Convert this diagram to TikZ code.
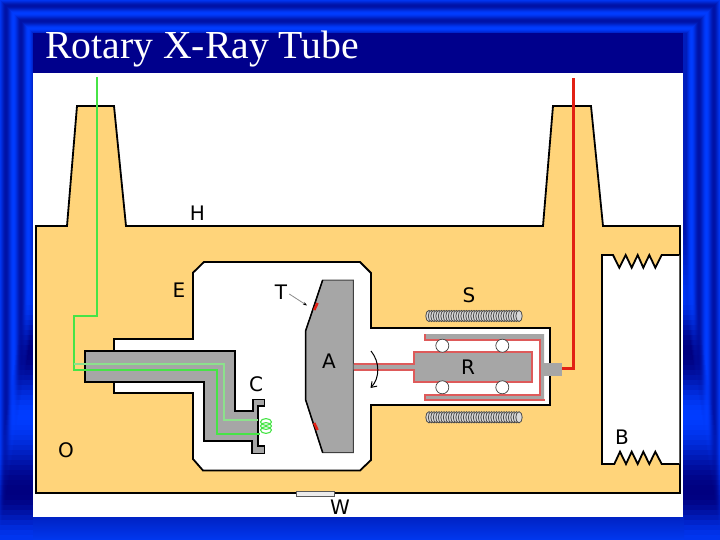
\documentclass[tikz,border=0pt]{standalone}
\usepackage{fontspec}
\setmainfont{DejaVu Sans}
\newfontfamily\titlefont{Liberation Serif}
\usetikzlibrary{arrows.meta}
\definecolor{sand}{RGB}{255,212,122}
\definecolor{metal}{RGB}{166,166,166}
\definecolor{navy}{RGB}{0,0,140}
\definecolor{pinkline}{RGB}{222,90,90}
\definecolor{wiregreen}{RGB}{70,228,70}
\definecolor{palegreen}{RGB}{140,225,140}
\definecolor{wirered}{RGB}{226,32,20}
\tikzset{
  lab/.style={font=\fontsize{20}{23}\selectfont,text=black,inner sep=0pt},
  outline/.style={draw=black,line width=1.8pt,line join=miter},
  coilring/.style={draw=black!70,line width=0.8pt,fill=white!70!gray},
  ball/.style={draw=black!75,line width=0.7pt,fill=white},
  metalpink/.style={fill=metal,draw=pinkline,line width=2pt}
}
\begin{document}
\begin{tikzpicture}[x=1pt,y=-1pt]
\useasboundingbox (0,0) rectangle (720,540);
% nested stripes of the frame
\fill[blue!80!black] (0,0) rectangle (720,540);
\foreach \d in {0,...,33}{
  \pgfmathsetmacro\ii{0.65+0.35*cos(24*(\d-13))}
  \pgfmathsetmacro\gg{0.235*\ii}
  \pgfmathsetmacro\bb{0.5+0.5*\ii}
  \definecolor{cc}{rgb}{0,\gg,\bb}
  \fill[cc] (\d,\d) rectangle (720-\d,540);
}
% side bands fading into dark and bright lobes
\foreach \y in {200,205,...,535}{
  \pgfmathsetmacro\ll{\y<287?(0.55+0.45*sin(90*((\y-200)/87))):(\y<350?(0.5+0.5*cos(180*((\y-287)/63))):(\y<413?(0.5-0.5*cos(180*((\y-350)/63))):(\y<490?(0.5+0.5*cos(180*((\y-413)/77))):(0.45-0.45*cos(180*((\y-490)/50))))))}
  \foreach \d in {0,...,36}{
    \pgfmathsetmacro\ss{0.65+0.35*cos(24*(\d-13))}
    \pgfmathsetmacro\ww{min(1,max(0,(\y-(450-6.5*\d))/80))}
    \pgfmathsetmacro\ii{\ss*(1-\ww)+\ll*\ww}
    \pgfmathsetmacro\gg{0.235*\ii}
    \pgfmathsetmacro\bb{0.5+0.5*\ii}
    \definecolor{cc}{rgb}{0,\gg,\bb}
    \fill[cc] (\d,\y) rectangle (\d+1.3,\y+5.4);
    \fill[cc] (720-\d,\y) rectangle (720-\d-1.3,\y+5.4);
  }
}
\definecolor{bandtop}{RGB}{0,32,192}
\definecolor{bandbot}{RGB}{0,56,240}
\shade[top color=bandtop,bottom color=bandbot] (33,515) rectangle (684,540);
% title band and page
\fill[navy] (33,33) rectangle (683,73);
\fill[white] (33,73) rectangle (683,517);
\node[anchor=base west,inner sep=0pt,text=white,font=\titlefont\fontsize{39.7}{44}\selectfont] (title) at (45,59) {Rotary X-Ray Tube};
% housing
\path[fill=sand,outline] (36,493) -- (36,226) -- (67,226) -- (77,106) -- (114,106) -- (126,226)
  -- (543,226) -- (553,106) -- (591,106) -- (603,226) -- (680,226) -- (680,493) -- cycle;
% oil bellows block B
\path[fill=white,outline] (679.3,255) -- (661.7,255) -- (655.3,267.7) -- (649.3,255) -- (643.3,267.7) -- (637.7,255) -- (631.7,267.7) -- (625.7,255) -- (619.3,267.7) -- (613,255) -- (602,255)
  -- (602,464) -- (614.3,464) -- (620,451.7) -- (626,464) -- (631.7,451.7) -- (637.7,464) -- (643.3,451.7) -- (649.3,464) -- (655.3,451.7) -- (661.7,464) -- (679.3,464);
% vacuum envelope
\path[fill=white,outline] (193,272.7) -- (204,262) -- (360,262) -- (371,273) -- (371,328) -- (550,328) -- (550,405) -- (371,405) -- (371,460) -- (360,470.5) -- (203,470.5) -- (193,459) -- (193,393) -- (114,393) -- (114,339) -- (193,339) -- cycle;
% stator coils
\foreach \x in {429,431.5,...,521}{
  \path[coilring] (\x,316) ellipse [x radius=3.2,y radius=5.6];
  \path[coilring] (\x,417.3) ellipse [x radius=3.2,y radius=5.6];
}
% cathode
\path[fill=metal,outline,line width=1.5pt] (85,351) -- (235,351) -- (235,411) -- (253,411) -- (253,399.5) -- (264.5,399.5) -- (264.5,406) -- (258,406) -- (258,446) -- (264.5,446) -- (264.5,453.5) -- (252,453.5) -- (252,441) -- (204,441) -- (204,382) -- (85,382) -- cycle;
% anode
\path[fill=metal,draw=black!75,line width=1pt] (322.7,280) -- (353.3,280) -- (353.3,452.7) -- (322.7,452.7) -- (305.7,400) -- (305.7,330.7) -- cycle;
\draw[black,line width=1.5pt] (322.7,280) -- (305.7,330.7) -- (305.7,400) -- (322.7,452.7);
\draw[wirered,line width=2.6pt] (314.2,310) -- (317.5,303);
\draw[wirered,line width=2.6pt] (314.2,423) -- (317.5,430);
% rotor
\path[metalpink] (353.5,363.5) -- (413.5,363.5) -- (413.5,351.5) -- (531.5,351.5) -- (531.5,381.5) -- (413.5,381.5) -- (413.5,369.5) -- (353.5,369.5);
\path[fill=metal] (424.3,334) -- (544,334) -- (544,399.5) -- (424.3,399.5) -- (424.3,394) -- (539.3,394) -- (539.3,339.3) -- (424.3,339.3) -- cycle;
\draw[pinkline,line width=2pt] (424.5,334) -- (424.5,339.5) -- (539.5,339.5) -- (539.5,394.5) -- (424.5,394.5) -- (424.5,399.5) -- (544.5,399.5);
\fill[metal] (544,363.3) rectangle (562,375.7);
\foreach \c in {(442.3,345.7),(502.3,345.7),(442.3,387.3),(502.3,387.3)}{
  \path[ball] \c circle (6.5);
}
% wires
\draw[wirered,line width=2.2pt] (562,368.5) -- (573.5,368.5) -- (573.5,78);
\draw[wiregreen,line width=2pt] (96.5,77) -- (96.5,315.5) -- (73.5,315.5) -- (73.5,369.5) -- (216.5,369.5) -- (216.5,433.5) -- (260,433.5);
\draw[palegreen,line width=2pt] (73.5,363.5) -- (223.5,363.5) -- (223.5,419.5) -- (258,419.5);
\foreach \y in {422,426,430}{
  \draw[wiregreen,line width=1.1pt] (266,\y) ellipse [x radius=5.5,y radius=3.4];
}
% window
\path[fill=white!85!gray,draw=black!65,line width=1pt] (296,491.5) rectangle (334,496);
% rotation arrow
\draw[black,line width=1pt,-{Straight Barb[length=5pt,width=7pt]}] (371,351) .. controls (380,362) and (380,378) .. (370.5,388);
% labels
\node[lab] (H) at (197.5,213) {H};
\node[lab] (E) at (179,290) {E};
\node[lab] (T) at (281,292) {T};
\node[lab] (S) at (469,295.5) {S};
\node[lab] (A) at (329,361) {A};
\node[lab] (R) at (468,367) {R};
\node[lab] (C) at (256,384) {C};
\node[lab] (O) at (66,450) {O};
\node[lab] (B) at (622,437) {B};
\node[lab] (W) at (340,507) {W};
\coordinate (target) at (307,305.5);
\draw[black!45,line width=0.8pt,-{Stealth[length=4pt,width=3pt,black]}] ([shift={(2,2)}]T.east) -- (target);
\end{tikzpicture}
\end{document}
